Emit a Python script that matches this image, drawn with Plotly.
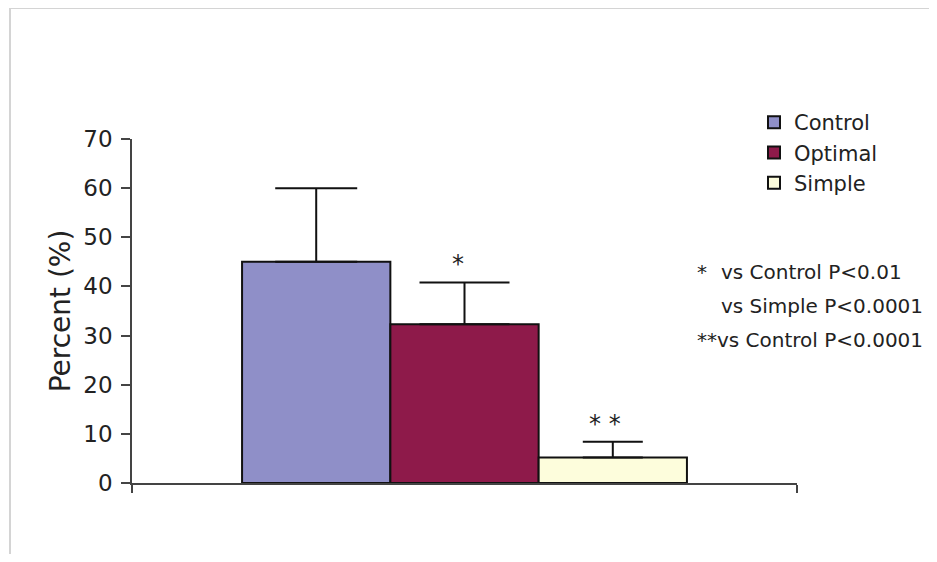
import plotly.graph_objects as go

groups = ["Control", "Optimal", "Simple"]
means = [45.0, 32.3, 5.2]
errors = [15.0, 8.5, 3.2]
colors = ["#8f8fc8", "#8e1a4a", "#fdfddc"]
cap_half = [41, 45, 30]
category = [""]

fig = go.Figure()
for g, m, e, c, w in zip(groups, means, errors, colors, cap_half):
    fig.add_trace(go.Bar(
        name=g, x=category, y=[m],
        marker=dict(color=c, line=dict(color="#111111", width=2)),
        error_y=dict(type="data", symmetric=False, array=[e], arrayminus=[0],
                     color="#111111", thickness=2, width=w),
    ))

OFF = 8  # page body margin
W, H = 937 - 2 * OFF, 562 - 2 * OFF
# plot area in screen pixels
SX0, SX1, SY0, SY1 = 132, 797, 139, 483
L, R = SX0 - OFF, W - (SX1 - OFF)
T, B = SY0 - OFF, H - (SY1 - OFF)
pw, ph = SX1 - SX0, SY1 - SY0

def px(x):
    return (x - SX0) / pw

def py(y):
    return (SY1 - y) / ph

font = "DejaVu Sans, Verdana, sans-serif"
txt = "#222222"

ann = []
ann.append(dict(x=px(458), y=py(264), text="*", showarrow=False, xref="paper", yref="paper",
                xanchor="center", yanchor="middle",
                font=dict(size=24, color=txt, family=font)))
ann.append(dict(x=px(605), y=py(424), text="* *", showarrow=False, xref="paper", yref="paper",
                xanchor="center", yanchor="middle",
                font=dict(size=24, color=txt, family=font)))
notes = [(697, 272, "*"), (721, 272, "vs Control P<0.01"), (721, 306, "vs Simple P<0.0001"),
         (697, 340, "**vs Control P<0.0001")]
for x, y, t in notes:
    ann.append(dict(x=px(x), y=py(y), text=t, showarrow=False, xref="paper", yref="paper",
                    xanchor="left", yanchor="middle", xshift=-2,
                    font=dict(size=20, color=txt, family=font)))

fig.update_layout(
    width=W, height=H,
    margin=dict(l=L, r=R, t=T, b=B, autoexpand=False),
    paper_bgcolor="white", plot_bgcolor="white",
    barmode="group", bargap=0.331, bargroupgap=0,
    showlegend=True,
    legend=dict(x=px(754), y=py(102), xanchor="left", yanchor="top",
                font=dict(size=21, color=txt, family=font),
                bgcolor="rgba(0,0,0,0)", tracegroupgap=0, itemwidth=30),
    annotations=ann,
    shapes=[dict(type="rect", xref="paper", yref="paper",
                 x0=px(10), x1=px(960), y0=py(561), y1=py(8),
                 line=dict(color="#d4d4d4", width=2), layer="below")],
)
fig.update_xaxes(range=[-0.5, 0.5], showline=True, linecolor="#444444", linewidth=1.5,
                 ticks="outside", tickson="boundaries", ticklen=8, tickcolor="#444444",
                 tickwidth=1.5, showticklabels=False, showgrid=False, zeroline=False)
fig.update_yaxes(range=[0, 70], tickvals=[0, 10, 20, 30, 40, 50, 60, 70],
                 showline=True, linecolor="#444444", linewidth=1.5,
                 ticks="outside", ticklen=9, tickcolor="#444444", tickwidth=1.5,
                 ticklabelstandoff=4,
                 tickfont=dict(size=23, color=txt, family=font),
                 showgrid=False, zeroline=False,
                 title=dict(text="Percent (%)", standoff=5,
                            font=dict(size=28, color=txt, family=font)))

fig.write_html("out.html")
